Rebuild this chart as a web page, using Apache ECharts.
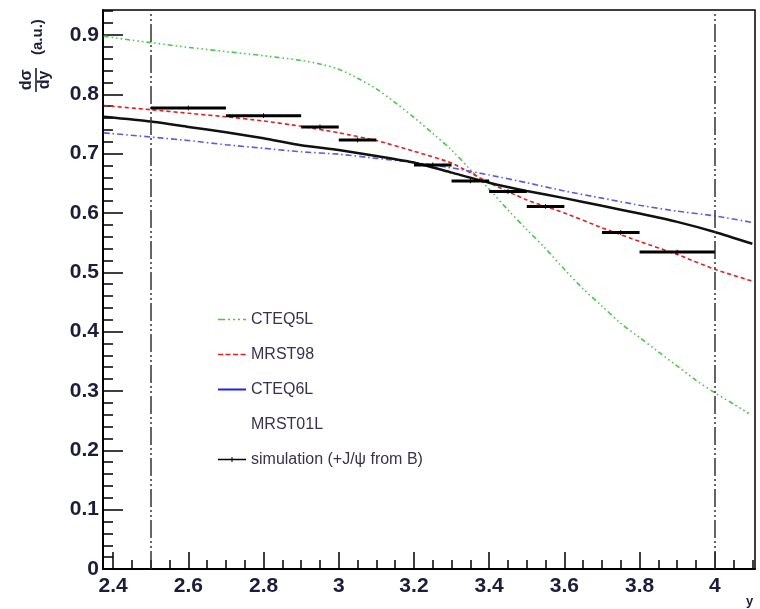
<!DOCTYPE html>
<html>
<head>
<meta charset="utf-8">
<script src="https://cdn.jsdelivr.net/npm/echarts@6/dist/echarts.min.js"></script>
<style>html,body{margin:0;padding:0;background:#fff}#c{width:760px;height:609px}</style>
</head>
<body>
<div id="c"></div>
<script>
// ---- data ----
const xTickLabels = [2.4, 2.6, 2.8, 3.0, 3.2, 3.4, 3.6, 3.8, 4.0];
const yTickLabels = [0, 0.1, 0.2, 0.3, 0.4, 0.5, 0.6, 0.7, 0.8, 0.9];
const cutLines = [2.5, 4.0];

const cteq5lX = [2.375, 2.45, 2.5, 2.6, 2.7, 2.8, 2.9, 2.95, 3.0, 3.05, 3.1, 3.15, 3.2, 3.25, 3.3, 3.35, 3.4, 3.45, 3.5, 3.55, 3.6, 3.65, 3.7, 3.75, 3.8, 3.85, 3.9, 3.95, 4.0, 4.05, 4.09];
const cteq5l  = [0.898, 0.891, 0.887, 0.879, 0.872, 0.865, 0.857, 0.851, 0.842, 0.827, 0.809, 0.786, 0.761, 0.734, 0.706, 0.673, 0.640, 0.605, 0.572, 0.540, 0.505, 0.472, 0.443, 0.414, 0.390, 0.366, 0.342, 0.318, 0.297, 0.278, 0.262];

const curveX  = [2.375, 2.5, 2.6, 2.7, 2.8, 2.9, 3.0, 3.1, 3.2, 3.3, 3.4, 3.5, 3.6, 3.7, 3.8, 3.9, 4.0, 4.1];
const mrst98  = [0.781, 0.774, 0.768, 0.762, 0.755, 0.746, 0.735, 0.722, 0.704, 0.684, 0.651, 0.622, 0.600, 0.575, 0.552, 0.530, 0.505, 0.485];
const cteq6l  = [0.735, 0.728, 0.722, 0.715, 0.709, 0.703, 0.699, 0.692, 0.685, 0.676, 0.664, 0.651, 0.637, 0.625, 0.613, 0.603, 0.595, 0.584];
const mrst01l = [0.762, 0.754, 0.745, 0.736, 0.726, 0.714, 0.706, 0.696, 0.685, 0.668, 0.651, 0.637, 0.625, 0.612, 0.599, 0.585, 0.568, 0.548];

const simLo  = [2.5, 2.7, 2.9, 3.0, 3.2, 3.3, 3.4, 3.5, 3.7, 3.8];
const simHi  = [2.7, 2.9, 3.0, 3.1, 3.3, 3.4, 3.5, 3.6, 3.8, 4.0];
const simY   = [0.777, 0.764, 0.745, 0.723, 0.681, 0.654, 0.636, 0.611, 0.567, 0.534];
const simErr = [0.004, 0.004, 0.004, 0.004, 0.004, 0.004, 0.004, 0.004, 0.004, 0.004];

// ---- helpers ----
const zip = (xs, ys) => xs.map((x, i) => [x, ys[i]]);
const xMinor = [], yMinor = [];
for (let i = 0; i <= 34; i++) { if (i % 4 !== 0) xMinor.push(+(2.4 + i * 0.05).toFixed(3)); }
for (let i = 0; i <= 47; i++) { if (i % 5 !== 0) yMinor.push(+(i * 0.02).toFixed(3)); }

const X_MIN = 2.373, X_MAX = 4.107, Y_MIN = 0, Y_MAX = 0.942;
const labelColor = '#1c1c3c';
const labelFont = 'Liberation Sans, Arial, sans-serif';
const box = 'M0,0h0.01v0.01H0z M27.99,13.99h0.01v0.01h-0.01z ';
const iconGreen = 'path://' + box + 'M0,6.3h7v1.4H0z M10,6.3h2v1.4h-2z M15,6.3h2v1.4h-2z M20,6.3h2v1.4h-2z M25,6.3h3v1.4h-3z';
const iconRed = 'path://' + box + 'M0,6.3h5v1.4H0z M7.5,6.3h5v1.4h-5z M15,6.3h5v1.4h-5z M22.5,6.3h5v1.4h-5z';
const iconBlue = 'path://' + box + 'M0,6.1h28v1.8H0z';
const iconSim = 'path://' + box + 'M0,6.2h28v1.6H0z M13.5,4.5h1v5h-1z';

const chart = echarts.init(document.getElementById('c'), null, {renderer: 'canvas'});
const simData = simLo.map((lo, i) => [lo, simHi[i], simY[i], simErr[i]]);

chart.setOption({
  animation: false,
  backgroundColor: '#fff',
  grid: {left: 103, right: 5, top: 10, bottom: 40, show: true, borderColor: '#000', borderWidth: 1.5, backgroundColor: 'transparent'},
  xAxis: [
    {type: 'value', min: X_MIN, max: X_MAX, position: 'bottom',
     axisLine: {show: true, onZero: false, lineStyle: {color: '#000', width: 2}},
     axisTick: {show: true, inside: true, length: 17, customValues: xTickLabels, lineStyle: {color: '#000', width: 1.5}},
     axisLabel: {show: true, customValues: xTickLabels, margin: 7, color: labelColor, fontSize: 21, fontWeight: 'bold', fontFamily: labelFont,
                 formatter: v => (Math.abs(v - Math.round(v)) < 1e-6 ? String(Math.round(v)) : v.toFixed(1))},
     splitLine: {show: false}},
    {type: 'value', min: X_MIN, max: X_MAX, position: 'bottom',
     axisLine: {show: false, onZero: false},
     axisTick: {show: true, inside: true, length: 9, customValues: xMinor, lineStyle: {color: '#000', width: 1.5}},
     axisLabel: {show: false}, splitLine: {show: false}}
  ],
  yAxis: [
    {type: 'value', min: Y_MIN, max: Y_MAX, position: 'left',
     axisLine: {show: true, onZero: false, lineStyle: {color: '#000', width: 2}},
     axisTick: {show: true, inside: true, length: 20, customValues: yTickLabels, lineStyle: {color: '#000', width: 1.5}},
     axisLabel: {show: true, customValues: yTickLabels, margin: 4, color: labelColor, fontSize: 21, fontWeight: 'bold', fontFamily: labelFont,
                 formatter: v => (v === 0 ? '0' : v.toFixed(1))},
     splitLine: {show: false}},
    {type: 'value', min: Y_MIN, max: Y_MAX, position: 'left',
     axisLine: {show: false, onZero: false},
     axisTick: {show: true, inside: true, length: 10, customValues: yMinor, lineStyle: {color: '#000', width: 1.5}},
     axisLabel: {show: false}, splitLine: {show: false}}
  ],
  legend: {
    orient: 'vertical', left: 213, top: 306, itemWidth: 28, itemHeight: 14, itemGap: 18,
    textStyle: {fontSize: 16, color: '#3a3050', fontFamily: labelFont, lineHeight: 17},
    selectedMode: false,
    data: [
      {name: 'CTEQ5L', icon: iconGreen, itemStyle: {color: '#44cc44'}},
      {name: 'MRST98', icon: iconRed, itemStyle: {color: '#ee1a1a'}},
      {name: 'CTEQ6L', icon: iconBlue, itemStyle: {color: '#2222ee'}},
      {name: 'MRST01L', icon: 'none', itemStyle: {opacity: 0}},
      {name: 'simulation (+J/ψ from B)', icon: iconSim, itemStyle: {color: '#000'}}
    ]
  },
  graphic: [
    {type: 'group', x: 36, y: 93, rotation: Math.PI / 2, children: [
      {type: 'text', x: 13, y: -9, style: {text: 'dσ', fontSize: 16, fontWeight: 'bold', fill: labelColor, fontFamily: labelFont, align: 'center', verticalAlign: 'middle'}},
      {type: 'line', shape: {x1: 1, y1: 0, x2: 25, y2: 0}, style: {stroke: labelColor, lineWidth: 1.6}},
      {type: 'text', x: 13, y: 9, style: {text: 'dy', fontSize: 16, fontWeight: 'bold', fill: labelColor, fontFamily: labelFont, align: 'center', verticalAlign: 'middle'}},
      {type: 'text', x: 38, y: 2, style: {text: '(a.u.)', fontSize: 15, fontWeight: 'bold', fill: labelColor, fontFamily: labelFont, align: 'left', verticalAlign: 'middle'}}
    ]},
    {type: 'text', x: 746, y: 595, style: {text: 'y', fontSize: 13, fontWeight: 'bold', fill: labelColor, fontFamily: labelFont}}
  ],
  series: [
    {name: 'CTEQ5L', type: 'line', data: zip(cteq5lX, cteq5l), smooth: 0.3, showSymbol: false, symbol: 'none',
     lineStyle: {color: '#44cc44', width: 1.6, type: [5, 3, 1.5, 3, 1.5, 3, 1.5, 3]}, itemStyle: {color: '#44cc44'}, z: 3},
    {name: 'MRST98', type: 'line', data: zip(curveX, mrst98), smooth: 0.2, showSymbol: false, symbol: 'none',
     lineStyle: {color: '#ee1a1a', width: 1.6, type: [4, 3]}, itemStyle: {color: '#ee1a1a'}, z: 3},
    {name: 'CTEQ6L', type: 'line', data: zip(curveX, cteq6l), smooth: 0.2, showSymbol: false, symbol: 'none',
     lineStyle: {color: '#5a5aee', width: 1.6, type: [6, 3, 1.5, 3]}, itemStyle: {color: '#2222ee'}, z: 3},
    {name: 'MRST01L', type: 'line', data: zip(curveX, mrst01l), smooth: 0.2, showSymbol: false, symbol: 'none',
     lineStyle: {color: '#111', width: 2.5}, itemStyle: {color: '#111'}, z: 4,
     markLine: {silent: true, symbol: 'none', label: {show: false},
                lineStyle: {color: '#333', width: 1.5, type: [18, 3, 2, 3, 2, 3]},
                data: cutLines.map(v => ({xAxis: v}))}},
    {name: 'simulation (+J/ψ from B)', type: 'custom', data: simData, z: 5,
     encode: {x: [0, 1], y: 2},
     itemStyle: {color: '#000'},
     renderItem: function (params, api) {
       const lo = api.value(0), hi = api.value(1), y = api.value(2), e = api.value(3);
       const p1 = api.coord([lo, y]), p2 = api.coord([hi, y]);
       const xm = (lo + hi) / 2;
       const e1 = api.coord([xm, y + e]), e2 = api.coord([xm, y - e]);
       return {type: 'group', children: [
         {type: 'line', shape: {x1: p1[0], y1: p1[1], x2: p2[0], y2: p2[1]}, style: {stroke: '#000', lineWidth: 3}},
         {type: 'line', shape: {x1: e1[0], y1: e1[1], x2: e2[0], y2: e2[1]}, style: {stroke: '#000', lineWidth: 1}}
       ]};
     }}
  ]
});
</script>
</body>
</html>
